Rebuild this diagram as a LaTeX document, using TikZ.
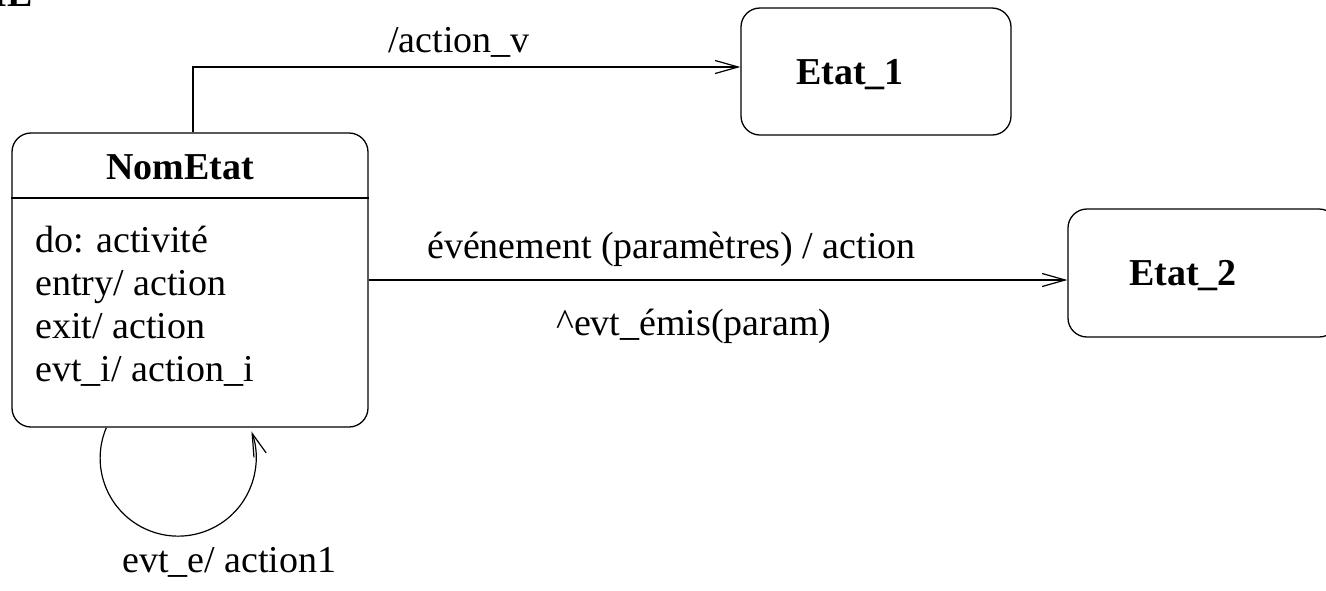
\documentclass[tikz,border=0pt]{standalone}
\usepackage{fontspec}
\setmainfont{Liberation Serif}
\usetikzlibrary{arrows.meta}
\begin{document}
\begin{tikzpicture}[x=1pt,y=-1pt,
  every node/.style={font=\fontsize{38}{44}\selectfont, inner sep=0pt},
  statebox/.style={draw, line width=1.3pt, rounded corners=19pt},
  trans/.style={line width=1.2pt, -{Straight Barb[length=23pt,width=13pt,line width=1.2pt]}},
  lbl/.style={anchor=base west},
  boldlbl/.style={anchor=base west, font=\fontsize{38}{44}\selectfont\bfseries}]
\useasboundingbox (0,0) rectangle (1326,590);
% partial title cut at top-left
\node[boldlbl, anchor=base east] (cut) at (33,6) {IE};
% states
\node[statebox, minimum width=356pt, minimum height=294pt] (nom) at (190,280) {};
\node[statebox, minimum width=270pt, minimum height=127pt] (e1) at (876,71.5) {};
\node[statebox, minimum width=270pt, minimum height=128pt] (e2) at (1203,273) {};
% NomEtat content
\node[boldlbl] (nomtitle) at (106,179) {NomEtat};
\coordinate (sep) at (0,198);
\draw[line width=1.2pt] (nom.west |- sep) -- (nom.east |- sep);
\node[lbl] (l1) at (35,252) {do: activité};
\node[lbl] (l2) at (35,295) {entry/ action};
\node[lbl] (l3) at (35,338) {exit/ action};
\node[lbl] (l4) at (35,381) {evt\_i/ action\_i};
\node[boldlbl] (t1) at (796,84) {Etat\_1};
\node[boldlbl] (t2) at (1129,285) {Etat\_2};
% transition to Etat_1
\coordinate (up) at (193,67);
\draw[trans] (up |- nom.north) -- (up) -- (up -| e1.west);
\node[lbl] (a1) at (388,52) {/action\_v};
% transition to Etat_2
\draw[trans] (nom.east) -- (e2.west |- nom.east);
\node[lbl] (a2) at (427,258) {événement (paramètres) / action};
\node[lbl] (a3) at (556,335) {\textasciicircum evt\_émis(param)};
% self loop
\draw[trans] ([xshift=95pt]nom.south west) arc[start angle=203, end angle=-20, radius=78];
\node[lbl] (a4) at (122,572) {evt\_e/ action1};
\end{tikzpicture}
\end{document}
